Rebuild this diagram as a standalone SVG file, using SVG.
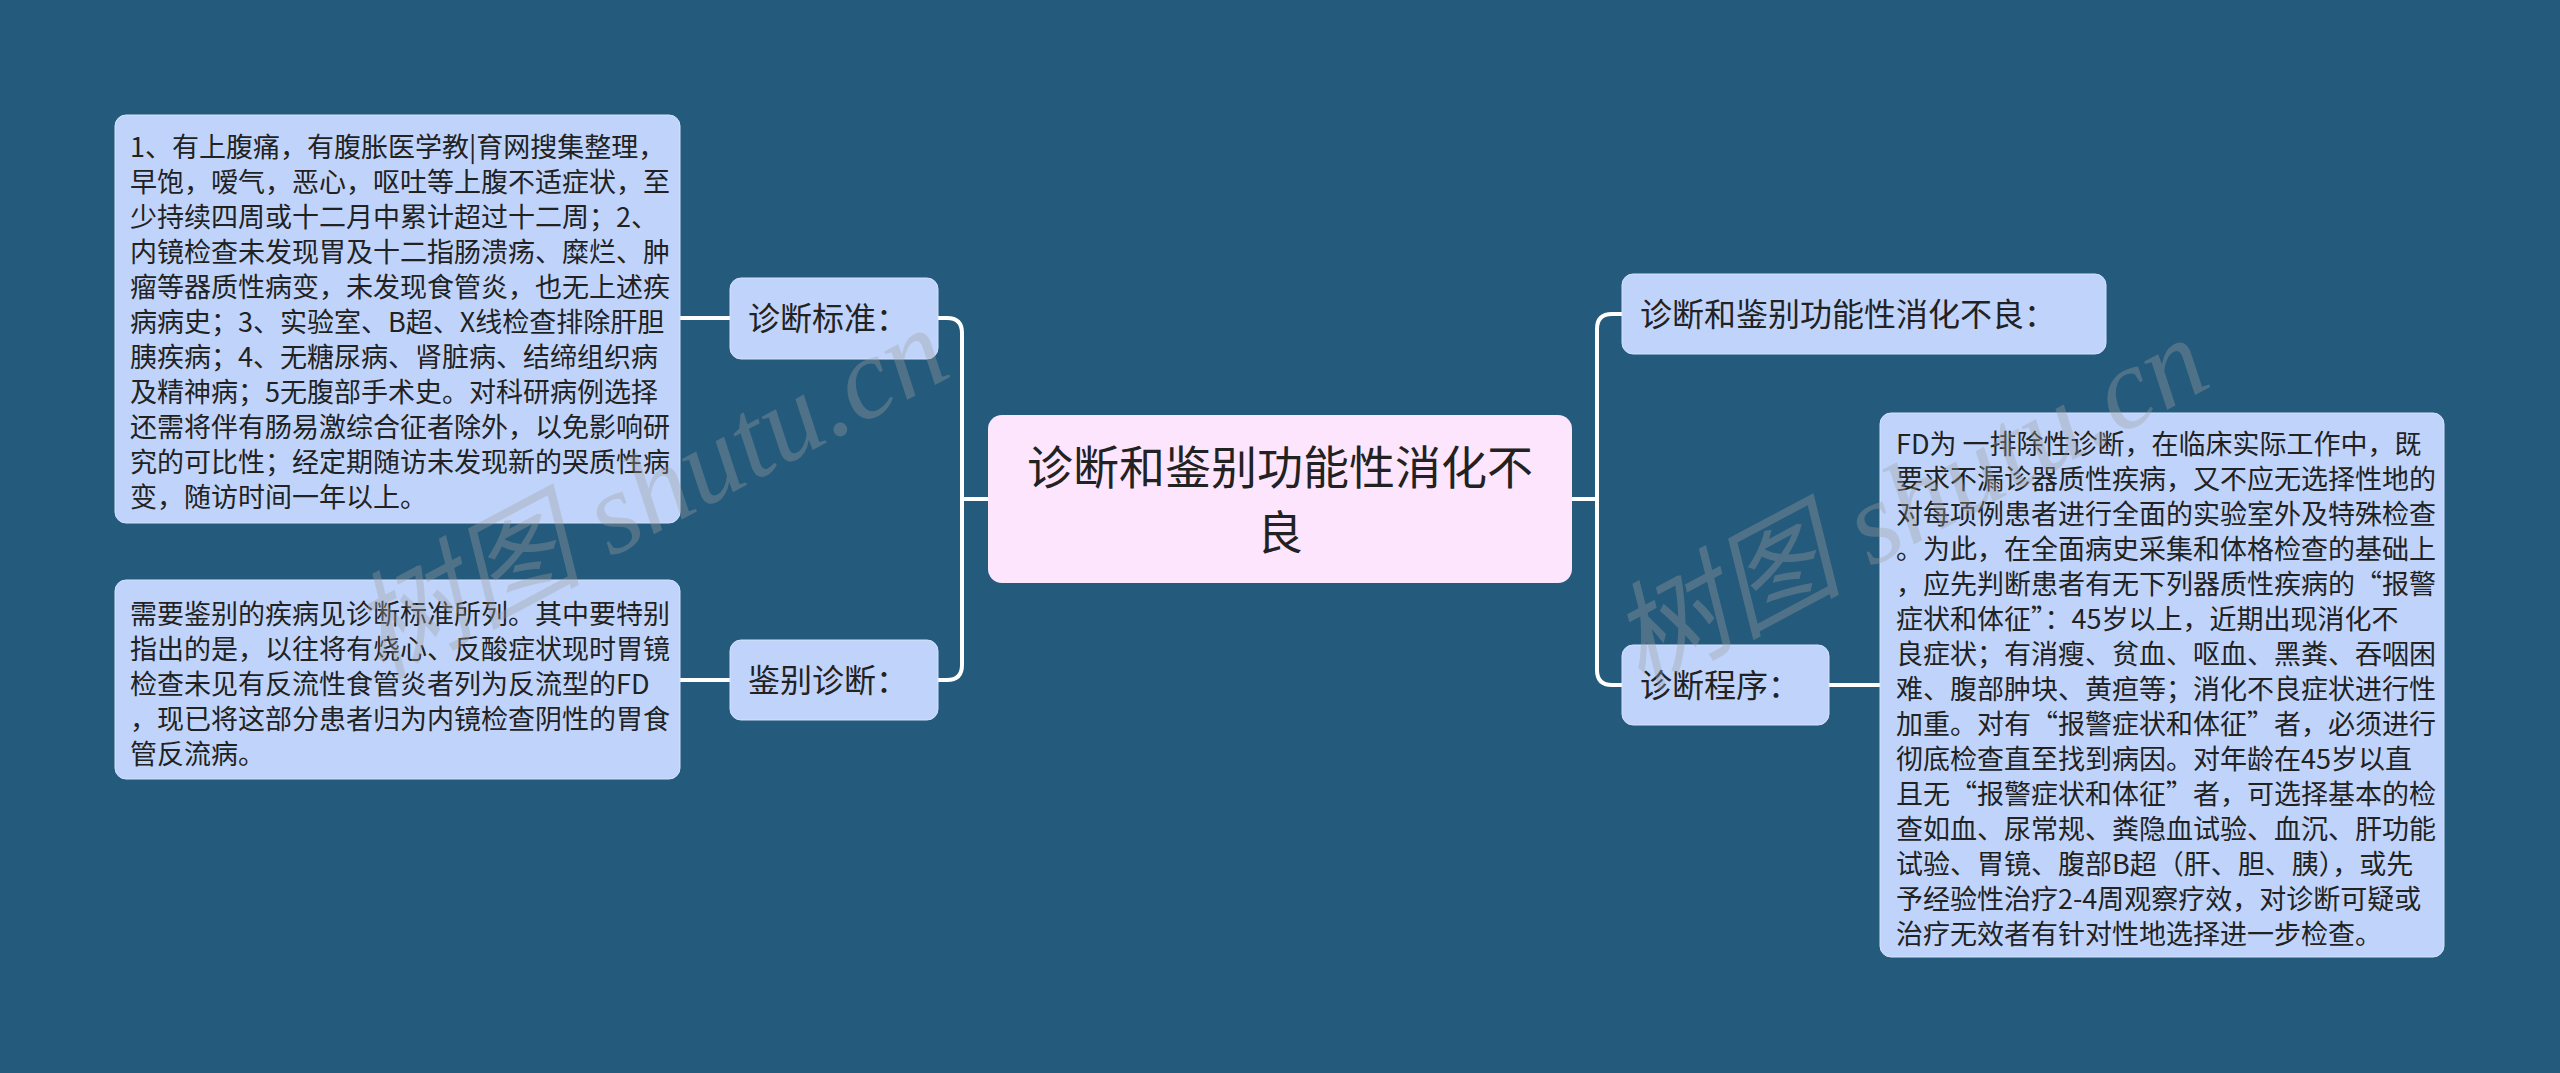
<svg xmlns="http://www.w3.org/2000/svg" width="2560" height="1073" viewBox="0 0 2560 1073">
<style>
.bg{fill:#245a7c}
.box{fill:#c0d4fb;stroke:#d4e2fd;stroke-width:1}
.center{fill:#fde5fd}
.t{font-family:"Noto Sans CJK SC","Noto Sans",sans-serif;fill:#222}
.small{font-size:27px}
.mid{font-size:32px}
.big{font-size:46px}
.conn{fill:none;stroke:#ffffff;stroke-width:4}
.wm{font-family:"Liberation Serif","Noto Sans CJK SC",serif;font-style:italic;font-size:116px;fill:#a0a0a0;opacity:0.35}
</style>
<rect class="bg" x="0" y="0" width="2560" height="1073"/>
<g id="connectors">
<path class="conn" d="M988,499 H962"/>
<path class="conn" d="M938,318 H947 Q962,318 962,333 V665 Q962,680 947,680 H938"/>
<path class="conn" d="M730,318 H680"/>
<path class="conn" d="M730,680 H680"/>
<path class="conn" d="M1572,499 H1597"/>
<path class="conn" d="M1622,314 H1612 Q1597,314 1597,329 V670 Q1597,685 1612,685 H1622"/>
<path class="conn" d="M1829,685 H1880"/>
</g>
<g id="root">
<rect class="center" x="988" y="415" width="584" height="168" rx="14"/>
<text class="t big" text-anchor="middle"><tspan x="1280" y="484">诊断和鉴别功能性消化不</tspan><tspan x="1280" y="549">良</tspan></text>
</g>
<g id="node-criteria">
<rect class="box" x="730" y="278" width="208" height="81" rx="11"/>
<text class="t mid" x="748" y="330">诊断标准：</text>
</g>
<g id="node-criteria-detail">
<rect class="box" x="115" y="115" width="565" height="408" rx="11"/>
<text class="t small">
<tspan x="130" y="157">1、有上腹痛，有腹胀医学教|育网搜集整理，</tspan>
<tspan x="130" y="192">早饱，嗳气，恶心，呕吐等上腹不适症状，至</tspan>
<tspan x="130" y="227">少持续四周或十二月中累计超过十二周；2、</tspan>
<tspan x="130" y="262">内镜检查未发现胃及十二指肠溃疡、糜烂、肿</tspan>
<tspan x="130" y="297">瘤等器质性病变，未发现食管炎，也无上述疾</tspan>
<tspan x="130" y="332">病病史；3、实验室、B超、X线检查排除肝胆</tspan>
<tspan x="130" y="367">胰疾病；4、无糖尿病、肾脏病、结缔组织病</tspan>
<tspan x="130" y="402">及精神病；5无腹部手术史。对科研病例选择</tspan>
<tspan x="130" y="437">还需将伴有肠易激综合征者除外，以免影响研</tspan>
<tspan x="130" y="472">究的可比性；经定期随访未发现新的哭质性病</tspan>
<tspan x="130" y="507">变，随访时间一年以上。</tspan>
</text>
</g>
<g id="node-differential">
<rect class="box" x="730" y="640" width="208" height="80" rx="11"/>
<text class="t mid" x="748" y="692">鉴别诊断：</text>
</g>
<g id="node-differential-detail">
<rect class="box" x="115" y="580" width="565" height="199" rx="11"/>
<text class="t small">
<tspan x="130" y="624">需要鉴别的疾病见诊断标准所列。其中要特别</tspan>
<tspan x="130" y="659">指出的是，以往将有烧心、反酸症状现时胃镜</tspan>
<tspan x="130" y="694">检查未见有反流性食管炎者列为反流型的FD</tspan>
<tspan x="130" y="729">，现已将这部分患者归为内镜检查阴性的胃食</tspan>
<tspan x="130" y="764">管反流病。</tspan>
</text>
</g>
<g id="node-title">
<rect class="box" x="1622" y="274" width="484" height="80" rx="11"/>
<text class="t mid" x="1640" y="326">诊断和鉴别功能性消化不良：</text>
</g>
<g id="node-procedure">
<rect class="box" x="1622" y="645" width="207" height="80" rx="11"/>
<text class="t mid" x="1640" y="697">诊断程序：</text>
</g>
<g id="node-procedure-detail">
<rect class="box" x="1880" y="413" width="564" height="544" rx="11"/>
<text class="t small">
<tspan x="1896" y="454">FD为 一排除性诊断，在临床实际工作中，既</tspan>
<tspan x="1896" y="489">要求不漏诊器质性疾病，又不应无选择性地的</tspan>
<tspan x="1896" y="524">对每项例患者进行全面的实验室外及特殊检查</tspan>
<tspan x="1896" y="559">。为此，在全面病史采集和体格检查的基础上</tspan>
<tspan x="1896" y="594">，应先判断患者有无下列器质性疾病的“报警</tspan>
<tspan x="1896" y="629">症状和体征”：45岁以上，近期出现消化不</tspan>
<tspan x="1896" y="664">良症状；有消瘦、贫血、呕血、黑粪、吞咽困</tspan>
<tspan x="1896" y="699">难、腹部肿块、黄疸等；消化不良症状进行性</tspan>
<tspan x="1896" y="734">加重。对有“报警症状和体征”者，必须进行</tspan>
<tspan x="1896" y="769">彻底检查直至找到病因。对年龄在45岁以直</tspan>
<tspan x="1896" y="804">且无“报警症状和体征”者，可选择基本的检</tspan>
<tspan x="1896" y="839">查如血、尿常规、粪隐血试验、血沉、肝功能</tspan>
<tspan x="1896" y="874">试验、胃镜、腹部B超（肝、胆、胰），或先</tspan>
<tspan x="1896" y="909">予经验性治疗2-4周观察疗效，对诊断可疑或</tspan>
<tspan x="1896" y="944">治疗无效者有针对性地选择进一步检查。</tspan>
</text>
</g>
<g id="watermarks">
<text class="wm" transform="translate(380,680) rotate(-28)">树图 shutu.cn</text>
<text class="wm" transform="translate(1640,690) rotate(-28)">树图 shutu.cn</text>
</g>
</svg>
